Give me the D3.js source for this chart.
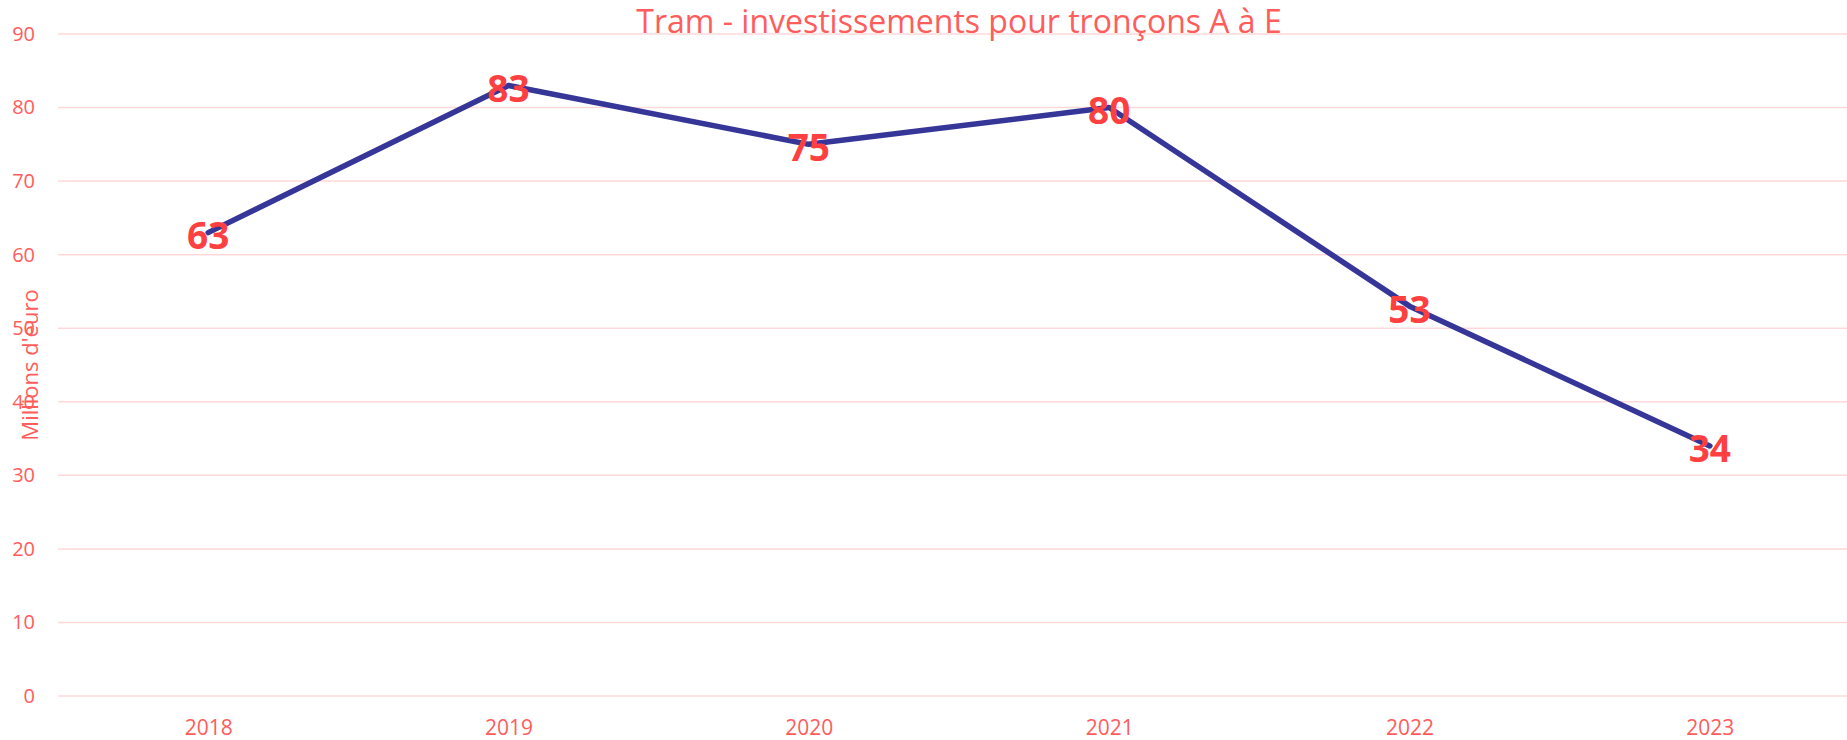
<!DOCTYPE html>
<html>
<head>
<meta charset="utf-8">
<script src="https://cdn.jsdelivr.net/npm/d3@7"></script>
<style>
  body { margin: 0; background: #fff; }
  svg { display: block; }
</style>
</head>
<body>
<div id="chart-area"></div>
<script>
var years = ["2018", "2019", "2020", "2021", "2022", "2023"];
var investments = [63, 83, 75, 80, 53, 34];
var yTicks = [0, 10, 20, 30, 40, 50, 60, 70, 80, 90];

var W = 1847, H = 740;
var plot = { left: 58, right: 1860, top: 34, bottom: 696 };

var svg = d3.select("#chart-area")
    .append("svg")
    .attr("width", W)
    .attr("height", H)
    .style("font-family", "'Open Sans', sans-serif");

var x = d3.scalePoint().domain(years).range([plot.left, plot.right]).padding(0.5);
var y = d3.scaleLinear().domain([0, 90]).range([plot.bottom, plot.top]);

// gridlines
svg.append("g")
    .selectAll("line")
    .data(yTicks)
    .enter().append("line")
    .attr("x1", plot.left)
    .attr("x2", W)
    .attr("y1", d => y(d))
    .attr("y2", d => y(d))
    .attr("stroke", "#ffd9d9")
    .attr("stroke-width", 1.5);

// y axis labels
var yAxis = svg.append("g")
    .attr("transform", "translate(" + (plot.left - 23) + ",0)")
    .call(d3.axisLeft(y).tickValues(yTicks).tickSize(0).tickPadding(0));
yAxis.select(".domain").remove();
yAxis.selectAll("text")
    .attr("font-size", "20px")
    .attr("font-family", "'Open Sans', sans-serif")
    .attr("fill", "#ff5c5c");

// x axis labels
var xAxis = svg.append("g")
    .attr("transform", "translate(0," + plot.bottom + ")")
    .call(d3.axisBottom(x).tickSize(0).tickPadding(24));
xAxis.select(".domain").remove();
xAxis.selectAll("text")
    .attr("font-size", "21px")
    .attr("font-family", "'Open Sans', sans-serif")
    .attr("fill", "#ff5c5c");

// axis title
svg.append("text")
    .attr("transform", "translate(29," + 365 + ") rotate(-90)")
    .attr("text-anchor", "middle")
    .attr("dominant-baseline", "central")
    .attr("font-size", "22px")
    .attr("fill", "#ff5c5c")
    .text("Millions d'euro");

// title
svg.append("text")
    .attr("x", (plot.left + plot.right) / 2)
    .attr("y", 33)
    .attr("text-anchor", "middle")
    .attr("font-size", "32px")
    .attr("fill", "#ff5c5c")
    .text("Tram - investissements pour tronçons A à E");

var data = years.map((yr, i) => ({ year: yr, value: investments[i] }));

var line = d3.line()
    .x(d => x(d.year))
    .y(d => y(d.value));

svg.append("path")
    .datum(data)
    .attr("fill", "none")
    .attr("stroke", "#363698")
    .attr("stroke-width", 5.5)
    .attr("stroke-linejoin", "round")
    .attr("stroke-linecap", "round")
    .attr("d", line);

svg.append("g")
    .selectAll("text")
    .data(data)
    .enter().append("text")
    .attr("x", d => x(d.year))
    .attr("y", d => y(d.value) + 2)
    .attr("text-anchor", "middle")
    .attr("dominant-baseline", "central")
    .attr("font-size", "37px")
    .attr("font-weight", "bold")
    .attr("fill", "#ff4040")
    .text(d => d.value);
</script>
</body>
</html>
